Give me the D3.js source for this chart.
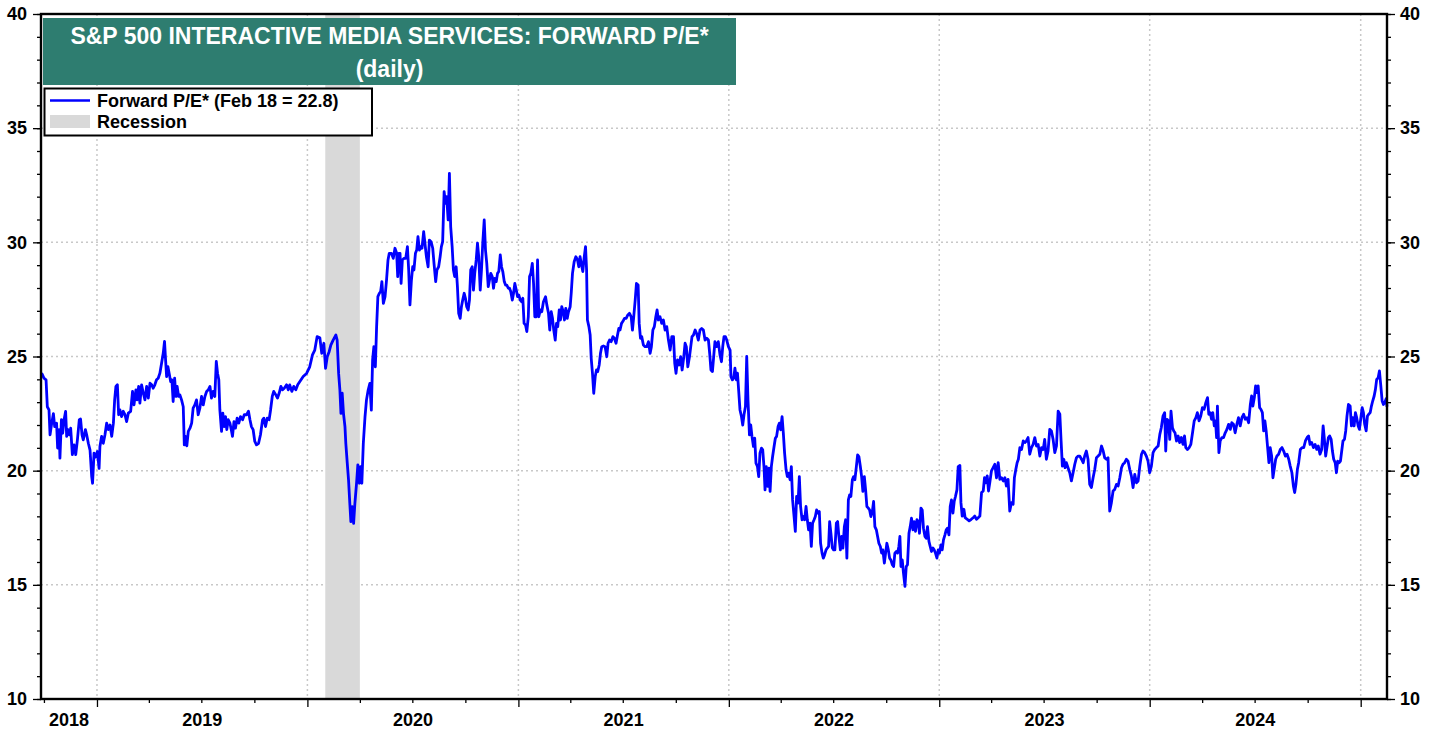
<!DOCTYPE html>
<html><head><meta charset="utf-8">
<script src="https://cdn.jsdelivr.net/npm/d3@7/dist/d3.min.js"></script>
<style>
html,body{margin:0;padding:0;background:#fff;}
svg text{font-family:Arial,"Liberation Sans",sans-serif;font-weight:bold;}
</style>
</head><body>
<svg id="chart" width="1439" height="731"></svg>
<script>
// ---- DATA (time as decimal year, value = forward P/E) ----
const titleLines = ["S&P 500 INTERACTIVE MEDIA SERVICES: FORWARD P/E*", "(daily)"];
const legendLabels = ["Forward P/E* (Feb 18 = 22.8)", "Recession"];
const yMajorTicks = [10, 15, 20, 25, 30, 35, 40];
const yearLabels = ["2018", "2019", "2020", "2021", "2022", "2023", "2024"];
const recessions = [["2020-02-01", "2020-04-01"]];

const pe2018 = [[2018.737,24.27],[2018.748,24.05],[2018.758,23.98],[2018.764,22.8],[2018.772,22.66],[2018.777,21.57],[2018.785,22.08],[2018.793,22.5],[2018.799,21.93],[2018.808,22.08],[2018.813,20.99],[2018.820,21.8],[2018.824,20.55],[2018.831,22.23],[2018.837,21.64],[2018.843,22.2],[2018.851,22.6],[2018.856,21.5],[2018.862,21.8],[2018.869,21.57],[2018.875,21.86],[2018.883,20.7],[2018.891,21.13],[2018.899,20.7],[2018.907,21.35],[2018.916,22.23],[2018.922,22.26],[2018.929,21.57],[2018.935,21.35],[2018.945,21.8],[2018.951,21.57],[2018.959,21.2],[2018.967,20.9],[2018.975,19.74],[2018.979,19.45],[2018.986,20.77],[2018.994,20.6]];

const pe2019 = [[2019.002,20.84],[2019.010,20.1],[2019.014,21.06],[2019.022,21.5],[2019.030,21.2],[2019.038,21.57],[2019.046,22.08],[2019.054,21.8],[2019.062,22.0],[2019.070,21.5],[2019.078,22.08],[2019.084,23.1],[2019.090,23.69],[2019.097,23.76],[2019.103,22.45],[2019.109,22.66],[2019.117,22.37],[2019.125,22.6],[2019.133,22.45],[2019.141,22.15],[2019.149,22.52],[2019.160,22.6],[2019.169,23.47],[2019.176,22.88],[2019.185,23.54],[2019.191,23.1],[2019.198,23.69],[2019.204,22.96],[2019.212,23.76],[2019.220,23.4],[2019.228,23.1],[2019.236,23.69],[2019.244,23.18],[2019.252,23.83],[2019.260,23.76],[2019.267,23.61],[2019.275,23.76],[2019.283,23.98],[2019.291,24.05],[2019.299,24.27],[2019.307,24.7],[2019.315,25.15],[2019.321,25.66],[2019.326,24.85],[2019.331,24.12],[2019.337,24.56],[2019.343,24.27],[2019.350,23.9],[2019.356,23.98],[2019.362,23.03],[2019.369,24.05],[2019.375,23.25],[2019.381,23.69],[2019.388,23.25],[2019.394,23.32],[2019.402,23.1],[2019.410,22.8],[2019.415,21.13],[2019.421,21.5],[2019.427,21.09],[2019.434,21.72],[2019.442,21.86],[2019.450,22.08],[2019.457,22.74],[2019.465,22.88],[2019.473,23.1],[2019.481,22.45],[2019.489,22.74],[2019.497,23.25],[2019.505,22.88],[2019.513,23.25],[2019.521,23.47],[2019.529,23.54],[2019.537,23.69],[2019.544,23.18],[2019.552,23.47],[2019.560,23.25],[2019.567,24.78],[2019.573,24.27],[2019.579,23.98],[2019.584,22.66],[2019.592,21.72],[2019.598,22.52],[2019.605,21.93],[2019.611,22.37],[2019.617,21.8],[2019.624,22.23],[2019.632,22.08],[2019.638,21.8],[2019.644,21.5],[2019.651,22.15],[2019.658,21.86],[2019.666,22.3],[2019.674,22.08],[2019.682,22.37],[2019.692,22.23],[2019.700,22.45],[2019.711,22.45],[2019.720,22.6],[2019.727,22.23],[2019.734,21.93],[2019.742,21.8],[2019.750,21.28],[2019.758,21.13],[2019.768,21.2],[2019.777,21.57],[2019.787,22.23],[2019.793,22.3],[2019.801,21.93],[2019.809,22.3],[2019.818,22.23],[2019.825,22.66],[2019.833,23.25],[2019.840,23.47],[2019.850,23.32],[2019.858,23.18],[2019.866,23.4],[2019.874,23.69],[2019.882,23.54],[2019.890,23.61],[2019.901,23.76],[2019.909,23.54],[2019.916,23.76],[2019.926,23.47],[2019.935,23.69],[2019.945,23.54],[2019.954,23.76],[2019.980,24.12],[2019.996,24.26]];

const pe2020 = [[2020.011,24.55],[2020.024,25.07],[2020.035,25.28],[2020.046,25.87],[2020.059,25.82],[2020.068,25.14],[2020.078,25.58],[2020.086,24.48],[2020.094,24.99],[2020.103,25.21],[2020.111,25.5],[2020.122,25.72],[2020.135,25.94],[2020.141,25.72],[2020.148,24.26],[2020.154,23.53],[2020.159,22.51],[2020.165,23.39],[2020.171,22.51],[2020.178,21.93],[2020.182,21.2],[2020.189,20.32],[2020.195,19.59],[2020.201,18.57],[2020.206,17.77],[2020.212,18.42],[2020.219,17.69],[2020.225,18.57],[2020.233,19.45],[2020.239,20.25],[2020.246,19.45],[2020.252,20.18],[2020.258,19.45],[2020.265,21.2],[2020.273,22.36],[2020.280,23.1],[2020.288,23.53],[2020.296,23.82],[2020.303,22.65],[2020.309,24.85],[2020.315,25.43],[2020.322,24.55],[2020.328,26.31],[2020.334,27.62],[2020.341,27.77],[2020.347,27.84],[2020.353,28.28],[2020.360,27.33],[2020.368,27.62],[2020.375,28.35],[2020.382,29.23],[2020.388,29.52],[2020.398,29.52],[2020.407,29.3],[2020.415,29.74],[2020.423,29.52],[2020.428,28.5],[2020.434,29.52],[2020.439,29.52],[2020.444,28.2],[2020.450,29.23],[2020.458,29.3],[2020.466,29.3],[2020.474,29.81],[2020.480,28.79],[2020.486,27.26],[2020.493,28.35],[2020.499,28.93],[2020.505,28.79],[2020.512,29.52],[2020.518,29.66],[2020.524,30.25],[2020.531,29.66],[2020.537,29.81],[2020.543,29.74],[2020.551,30.47],[2020.557,29.96],[2020.564,29.37],[2020.572,28.93],[2020.578,30.1],[2020.586,30.03],[2020.594,29.74],[2020.600,29.08],[2020.608,28.28],[2020.614,28.79],[2020.622,28.93],[2020.629,29.37],[2020.635,29.81],[2020.641,30.03],[2020.648,32.22],[2020.654,31.71],[2020.660,32.0],[2020.667,30.98],[2020.673,33.02],[2020.679,30.69],[2020.686,29.81],[2020.692,28.79],[2020.698,28.5],[2020.705,28.93],[2020.711,28.06],[2020.717,26.89],[2020.724,26.67],[2020.730,27.18],[2020.736,27.47],[2020.743,27.77],[2020.749,27.55],[2020.755,27.18],[2020.762,27.04],[2020.768,27.47],[2020.774,28.79],[2020.781,28.93],[2020.787,27.91],[2020.793,28.64],[2020.800,29.23],[2020.806,29.96],[2020.812,29.37],[2020.819,27.91],[2020.825,28.79],[2020.831,29.96],[2020.838,30.98],[2020.844,29.66],[2020.850,29.08],[2020.857,28.06],[2020.863,28.35],[2020.869,28.64],[2020.876,28.5],[2020.882,27.99],[2020.888,28.42],[2020.895,28.28],[2020.901,28.64],[2020.907,28.72],[2020.914,29.45],[2020.920,28.93],[2020.926,28.72],[2020.933,28.28],[2020.939,28.13],[2020.945,28.13],[2020.952,27.99],[2020.958,27.99],[2020.964,27.84],[2020.971,27.47],[2020.977,27.77],[2020.983,28.2],[2020.990,27.91],[2020.996,27.62]];

const pe2021 = [[2021.002,27.69],[2021.009,27.47],[2021.015,27.4],[2021.021,27.55],[2021.027,26.45],[2021.034,26.38],[2021.040,26.09],[2021.047,26.74],[2021.053,28.5],[2021.059,28.64],[2021.066,29.08],[2021.072,28.2],[2021.078,26.74],[2021.085,26.74],[2021.091,29.23],[2021.097,26.74],[2021.104,27.04],[2021.111,26.96],[2021.119,27.4],[2021.129,27.62],[2021.135,27.26],[2021.143,26.89],[2021.149,26.16],[2021.156,26.96],[2021.162,26.67],[2021.168,26.16],[2021.175,25.72],[2021.181,26.45],[2021.187,26.31],[2021.194,27.04],[2021.200,26.6],[2021.206,27.18],[2021.213,26.96],[2021.219,26.6],[2021.225,27.11],[2021.232,26.67],[2021.238,26.96],[2021.246,27.18],[2021.251,27.77],[2021.257,28.64],[2021.265,29.15],[2021.273,29.37],[2021.281,29.23],[2021.287,28.93],[2021.293,29.37],[2021.300,29.01],[2021.306,28.72],[2021.312,29.3],[2021.319,29.81],[2021.324,28.79],[2021.328,26.6],[2021.335,26.31],[2021.341,25.94],[2021.346,24.92],[2021.352,24.26],[2021.358,23.39],[2021.365,24.12],[2021.371,24.41],[2021.377,24.34],[2021.384,24.63],[2021.390,25.14],[2021.396,25.43],[2021.404,25.46],[2021.412,25.43],[2021.420,24.99],[2021.426,25.58],[2021.433,25.72],[2021.441,25.65],[2021.449,25.87],[2021.456,25.8],[2021.464,25.58],[2021.471,25.94],[2021.477,26.23],[2021.483,26.16],[2021.490,26.45],[2021.496,26.53],[2021.504,26.67],[2021.512,26.67],[2021.520,26.82],[2021.528,26.89],[2021.536,26.74],[2021.542,26.16],[2021.548,26.74],[2021.555,27.47],[2021.561,28.2],[2021.569,28.13],[2021.574,26.45],[2021.580,25.8],[2021.586,25.87],[2021.594,25.5],[2021.602,25.43],[2021.610,25.43],[2021.618,25.65],[2021.626,25.14],[2021.632,25.43],[2021.639,26.16],[2021.646,26.31],[2021.653,26.74],[2021.659,27.04],[2021.665,26.6],[2021.673,26.74],[2021.681,26.45],[2021.689,26.6],[2021.697,26.16],[2021.705,26.31],[2021.713,25.72],[2021.721,25.28],[2021.729,25.87],[2021.737,25.87],[2021.743,24.7],[2021.749,24.26],[2021.756,24.85],[2021.764,24.63],[2021.771,24.99],[2021.778,24.41],[2021.786,24.99],[2021.792,25.58],[2021.798,25.43],[2021.805,24.55],[2021.813,24.99],[2021.819,25.43],[2021.825,25.87],[2021.832,25.94],[2021.840,26.16],[2021.847,26.01],[2021.855,25.72],[2021.863,26.16],[2021.871,26.23],[2021.879,26.16],[2021.887,25.72],[2021.895,25.8],[2021.903,25.72],[2021.909,25.14],[2021.915,24.41],[2021.922,24.34],[2021.928,24.99],[2021.934,25.65],[2021.942,25.43],[2021.950,25.65],[2021.958,25.07],[2021.965,24.77],[2021.971,25.43],[2021.977,25.87],[2021.984,25.87],[2021.990,25.72],[2021.998,25.43]];

const pe2022 = [[2022.006,25.28],[2022.010,24.12],[2022.017,23.98],[2022.023,24.05],[2022.029,24.49],[2022.036,23.98],[2022.041,24.27],[2022.047,23.47],[2022.053,22.66],[2022.060,22.37],[2022.066,22.0],[2022.072,22.45],[2022.079,22.81],[2022.085,25.0],[2022.091,23.1],[2022.098,21.57],[2022.104,22.0],[2022.110,21.5],[2022.117,21.06],[2022.123,21.42],[2022.129,20.33],[2022.136,20.18],[2022.142,19.74],[2022.148,20.77],[2022.155,20.99],[2022.161,20.91],[2022.167,20.18],[2022.172,19.16],[2022.178,20.18],[2022.185,19.31],[2022.191,20.11],[2022.196,19.09],[2022.202,20.18],[2022.208,20.62],[2022.215,21.06],[2022.221,21.42],[2022.227,21.5],[2022.234,21.93],[2022.240,22.08],[2022.246,21.79],[2022.253,22.37],[2022.259,21.64],[2022.265,20.77],[2022.272,20.04],[2022.278,19.74],[2022.284,19.89],[2022.291,19.6],[2022.297,20.18],[2022.303,18.72],[2022.310,17.99],[2022.316,17.34],[2022.322,18.87],[2022.329,18.58],[2022.335,19.74],[2022.341,18.43],[2022.348,17.85],[2022.354,17.99],[2022.360,17.85],[2022.367,18.43],[2022.373,17.85],[2022.379,17.41],[2022.386,17.7],[2022.392,16.68],[2022.398,17.7],[2022.405,17.85],[2022.411,17.99],[2022.417,18.28],[2022.424,18.14],[2022.430,18.21],[2022.436,16.82],[2022.443,16.39],[2022.449,16.17],[2022.455,16.31],[2022.462,16.53],[2022.468,16.61],[2022.474,16.68],[2022.479,17.77],[2022.485,17.26],[2022.492,16.61],[2022.498,16.53],[2022.504,16.53],[2022.511,17.7],[2022.517,17.77],[2022.523,17.12],[2022.530,16.53],[2022.536,17.12],[2022.542,16.61],[2022.549,17.55],[2022.555,17.85],[2022.561,16.17],[2022.568,18.72],[2022.574,18.94],[2022.580,18.87],[2022.587,19.6],[2022.593,19.74],[2022.599,19.6],[2022.606,20.18],[2022.612,20.69],[2022.618,20.62],[2022.625,20.18],[2022.631,19.74],[2022.637,19.09],[2022.644,19.74],[2022.650,19.16],[2022.656,18.43],[2022.663,18.36],[2022.669,18.28],[2022.675,17.99],[2022.682,18.21],[2022.688,18.65],[2022.694,17.55],[2022.701,17.41],[2022.707,17.12],[2022.713,16.82],[2022.720,16.68],[2022.726,16.39],[2022.732,16.53],[2022.739,15.95],[2022.745,16.39],[2022.751,16.82],[2022.758,16.53],[2022.764,16.17],[2022.770,16.09],[2022.777,15.88],[2022.783,15.8],[2022.789,16.39],[2022.796,16.46],[2022.802,16.39],[2022.808,16.68],[2022.813,17.12],[2022.818,15.8],[2022.824,16.09],[2022.830,15.51],[2022.837,14.93],[2022.843,15.8],[2022.849,15.88],[2022.856,17.26],[2022.862,17.55],[2022.868,17.92],[2022.875,17.41],[2022.881,17.77],[2022.887,17.34],[2022.894,17.85],[2022.900,17.77],[2022.906,17.26],[2022.913,18.36],[2022.919,18.28],[2022.925,17.48],[2022.932,17.12],[2022.938,17.04],[2022.944,17.55],[2022.951,16.9],[2022.957,16.68],[2022.963,16.46],[2022.970,16.61],[2022.976,16.53],[2022.982,16.39],[2022.989,16.17],[2022.995,16.53]];

const pe2023 = [[2023.001,16.39],[2023.008,16.75],[2023.014,16.53],[2023.020,16.97],[2023.027,17.19],[2023.033,17.41],[2023.039,17.48],[2023.046,17.19],[2023.052,18.43],[2023.058,18.72],[2023.065,18.14],[2023.071,18.65],[2023.077,18.87],[2023.084,19.16],[2023.090,20.18],[2023.098,20.23],[2023.103,18.6],[2023.109,18.01],[2023.117,18.31],[2023.123,17.94],[2023.133,17.87],[2023.142,17.8],[2023.152,17.87],[2023.161,17.94],[2023.169,18.01],[2023.177,17.87],[2023.185,17.94],[2023.193,18.01],[2023.201,19.04],[2023.209,19.11],[2023.215,19.69],[2023.221,19.47],[2023.228,19.77],[2023.234,19.11],[2023.240,19.47],[2023.248,19.99],[2023.256,20.13],[2023.264,20.28],[2023.272,19.69],[2023.280,20.35],[2023.288,19.62],[2023.296,19.69],[2023.304,19.55],[2023.312,19.69],[2023.319,19.33],[2023.327,19.62],[2023.335,18.23],[2023.343,18.6],[2023.351,18.53],[2023.357,19.69],[2023.364,20.06],[2023.370,20.35],[2023.376,20.5],[2023.383,21.01],[2023.391,20.93],[2023.399,21.3],[2023.407,21.23],[2023.414,21.3],[2023.422,21.45],[2023.430,20.72],[2023.438,21.01],[2023.446,21.15],[2023.454,21.45],[2023.462,21.08],[2023.470,21.15],[2023.478,20.64],[2023.486,21.01],[2023.494,20.93],[2023.501,21.37],[2023.509,20.5],[2023.517,20.86],[2023.525,21.81],[2023.533,21.74],[2023.541,21.37],[2023.549,20.79],[2023.557,21.08],[2023.565,22.61],[2023.573,22.47],[2023.579,21.3],[2023.585,20.2],[2023.592,20.5],[2023.598,20.13],[2023.604,20.35],[2023.612,20.13],[2023.620,19.91],[2023.628,19.55],[2023.636,19.91],[2023.644,20.28],[2023.652,20.57],[2023.660,20.64],[2023.668,20.64],[2023.676,20.5],[2023.684,20.35],[2023.691,20.64],[2023.699,20.86],[2023.707,20.5],[2023.715,19.4],[2023.723,19.26],[2023.731,19.69],[2023.739,20.06],[2023.747,20.57],[2023.755,20.64],[2023.763,20.72],[2023.771,21.08],[2023.779,20.86],[2023.786,20.57],[2023.794,20.5],[2023.802,20.57],[2023.810,18.23],[2023.818,18.6],[2023.826,19.11],[2023.834,19.18],[2023.842,19.4],[2023.850,19.33],[2023.858,19.69],[2023.866,20.13],[2023.873,20.28],[2023.881,20.35],[2023.889,20.5],[2023.897,20.42],[2023.905,20.06],[2023.913,19.77],[2023.921,19.26],[2023.929,19.84],[2023.937,19.47],[2023.945,19.55],[2023.953,20.2],[2023.961,20.72],[2023.968,20.86],[2023.976,20.79],[2023.984,20.64],[2023.992,20.42]];

const pe2024 = [[2024.000,19.91],[2024.008,20.2],[2024.016,20.79],[2024.024,20.93],[2024.032,21.01],[2024.040,21.08],[2024.048,21.59],[2024.055,21.88],[2024.063,22.39],[2024.071,22.54],[2024.076,20.86],[2024.082,22.25],[2024.089,22.18],[2024.095,21.37],[2024.101,22.61],[2024.108,21.88],[2024.114,21.74],[2024.120,21.66],[2024.127,21.3],[2024.135,21.52],[2024.142,21.23],[2024.150,21.45],[2024.158,21.15],[2024.165,21.52],[2024.171,21.01],[2024.179,20.93],[2024.187,21.01],[2024.195,21.15],[2024.203,21.66],[2024.211,22.18],[2024.219,22.32],[2024.226,22.54],[2024.234,22.18],[2024.242,22.39],[2024.250,22.76],[2024.258,22.69],[2024.266,22.98],[2024.274,23.2],[2024.280,22.47],[2024.287,22.54],[2024.293,22.25],[2024.299,22.54],[2024.306,21.96],[2024.312,22.18],[2024.317,21.45],[2024.321,22.83],[2024.328,20.79],[2024.334,21.3],[2024.342,21.45],[2024.350,21.45],[2024.358,21.66],[2024.366,21.81],[2024.374,22.03],[2024.382,21.81],[2024.389,22.1],[2024.397,22.03],[2024.405,21.66],[2024.413,22.03],[2024.421,22.32],[2024.429,21.96],[2024.437,22.32],[2024.445,22.47],[2024.453,22.25],[2024.461,22.32],[2024.469,22.1],[2024.477,22.9],[2024.483,23.27],[2024.489,22.83],[2024.496,23.2],[2024.502,23.71],[2024.508,23.42],[2024.514,23.71],[2024.521,22.76],[2024.527,22.69],[2024.534,22.54],[2024.540,21.74],[2024.546,22.18],[2024.552,21.74],[2024.559,21.01],[2024.565,20.35],[2024.571,21.01],[2024.578,20.64],[2024.584,19.69],[2024.590,20.06],[2024.597,20.5],[2024.603,20.64],[2024.611,20.72],[2024.619,20.93],[2024.627,21.01],[2024.635,20.86],[2024.643,20.64],[2024.651,20.72],[2024.659,20.5],[2024.666,20.2],[2024.674,19.91],[2024.681,19.33],[2024.687,19.04],[2024.693,19.4],[2024.700,20.06],[2024.706,20.35],[2024.714,20.93],[2024.722,21.01],[2024.730,21.01],[2024.738,21.3],[2024.746,21.45],[2024.753,21.52],[2024.760,21.15],[2024.768,21.23],[2024.776,21.01],[2024.784,21.15],[2024.792,20.93],[2024.799,21.08],[2024.807,20.72],[2024.815,20.93],[2024.822,21.96],[2024.828,21.37],[2024.834,20.64],[2024.841,21.08],[2024.847,21.45],[2024.853,21.52],[2024.860,21.37],[2024.866,20.86],[2024.872,20.5],[2024.879,20.35],[2024.885,19.91],[2024.891,20.42],[2024.898,20.35],[2024.904,20.42],[2024.910,20.86],[2024.916,21.3],[2024.923,21.37],[2024.929,21.74],[2024.935,22.39],[2024.942,22.9],[2024.950,22.83],[2024.956,21.96],[2024.962,22.32],[2024.969,21.96],[2024.975,22.54],[2024.981,22.32],[2024.988,21.96],[2024.994,21.81]];

const pe2025 = [[2025.000,22.25],[2025.007,22.76],[2025.013,22.54],[2025.019,22.03],[2025.026,21.74],[2025.032,22.39],[2025.038,22.47],[2025.045,22.54],[2025.051,22.83],[2025.057,23.05],[2025.064,23.27],[2025.070,23.56],[2025.076,24.0],[2025.083,24.07],[2025.089,24.37],[2025.095,23.78],[2025.102,23.05],[2025.108,22.9],[2025.114,22.98],[2025.121,23.15],[2025.125,22.8]];

const xDomainYears = [2018.734, 2025.125];
const yDomain = [10, 40];

// ---- DRAWING ----
function toDate(t){const y=Math.floor(t);const a=Date.UTC(y,0,1),b=Date.UTC(y+1,0,1);return new Date(a+(t-y)*(b-a));}
const series = [].concat(pe2018,pe2019,pe2020,pe2021,pe2022,pe2023,pe2024,pe2025).map(d=>({date:toDate(d[0]),v:d[1]}));

const L=41,R=1387,T=14,B=699;
const FS=18;
const svg=d3.select("#chart");
const x=d3.scaleUtc().domain(xDomainYears.map(toDate)).range([L,R]);
const y=d3.scaleLinear().domain(yDomain).range([B,T]);

// grid
const gridColor="#c8c8c8";
const yearStarts=d3.utcYear.range(x.domain()[0], x.domain()[1]).filter(d=>x(d)>L+1);
svg.append("g").selectAll("line").data(yearStarts).join("line")
  .attr("x1",d=>x(d)).attr("x2",d=>x(d)).attr("y1",T).attr("y2",B)
  .attr("stroke",gridColor).attr("stroke-width",1.5).attr("stroke-dasharray","2,3");
svg.append("g").selectAll("line").data(yMajorTicks.filter(v=>v>10&&v<40)).join("line")
  .attr("x1",L).attr("x2",R).attr("y1",d=>y(d)).attr("y2",d=>y(d))
  .attr("stroke",gridColor).attr("stroke-width",1.5).attr("stroke-dasharray","2,3");

// recession
svg.append("g").selectAll("rect").data(recessions).join("rect")
  .attr("x",d=>x(new Date(d[0]))).attr("width",d=>x(new Date(d[1]))-x(new Date(d[0])))
  .attr("y",T).attr("height",B-T).attr("fill","#d9d9d9");

// line
svg.append("path").datum(series)
  .attr("d",d3.line().x(d=>x(d.date)).y(d=>y(d.v)))
  .attr("fill","none").attr("stroke","#0000ff").attr("stroke-width",2.8).attr("stroke-linejoin","round");

// axes
const minorY=d3.range(10,41,1);
function styleAxis(g){g.select(".domain").remove();g.selectAll("line").attr("stroke","#000").attr("stroke-width",1.3);}
svg.append("g").attr("transform",`translate(${L},0)`).call(d3.axisLeft(y).tickValues(minorY).tickSize(4).tickFormat("")).call(styleAxis);
svg.append("g").attr("transform",`translate(${L},0)`).call(d3.axisLeft(y).tickValues(yMajorTicks).tickSize(8).tickPadding(6)).call(styleAxis)
  .selectAll("text").attr("font-size",FS).attr("fill","#000").attr("font-weight","bold");
svg.append("g").attr("transform",`translate(${R},0)`).call(d3.axisRight(y).tickValues(minorY).tickSize(4).tickFormat("")).call(styleAxis);
svg.append("g").attr("transform",`translate(${R},0)`).call(d3.axisRight(y).tickValues(yMajorTicks).tickSize(8).tickPadding(5)).call(styleAxis)
  .selectAll("text").attr("font-size",FS).attr("fill","#000").attr("font-weight","bold");

const quarters=d3.utcMonth.every(3).range(x.domain()[0], x.domain()[1]);
svg.append("g").attr("transform",`translate(0,${B})`).call(d3.axisBottom(x).tickValues(quarters).tickSize(4).tickFormat("")).call(styleAxis)
  .selectAll(".tick line").attr("y2",d=>d.getUTCMonth()===0?8:4);

// year labels centered on visible part of each year
const years=d3.utcYear.range(d3.utcYear.floor(x.domain()[0]), x.domain()[1]);
const lab=svg.append("g");
years.forEach(d=>{
  const a=Math.max(x(d),L), b=Math.min(x(d3.utcYear.offset(d,1)),R);
  const name=String(d.getUTCFullYear());
  if(b-a>40 && yearLabels.includes(name)){
    lab.append("text").attr("x",(a+b)/2).attr("y",726).attr("text-anchor","middle").attr("font-size",FS).text(name);
  }
});

// frame
svg.append("rect").attr("x",L).attr("y",T).attr("width",R-L).attr("height",B-T)
  .attr("fill","none").attr("stroke","#000").attr("stroke-width",2.4);

// title box
svg.append("rect").attr("x",43).attr("y",18).attr("width",693).attr("height",67).attr("fill","#2e7d70");
svg.append("text").attr("x",389.5).attr("y",44).attr("text-anchor","middle").attr("fill","#fff").attr("font-size",23).text(titleLines[0]);
svg.append("text").attr("x",389.5).attr("y",77).attr("text-anchor","middle").attr("fill","#fff").attr("font-size",23).text(titleLines[1]);

// legend
const lg=svg.append("g");
lg.append("rect").attr("x",44.5).attr("y",88.5).attr("width",327.5).attr("height",47).attr("fill","#fff").attr("stroke","#000").attr("stroke-width",2);
lg.append("line").attr("x1",50).attr("x2",90).attr("y1",100.5).attr("y2",100.5).attr("stroke","#0000ff").attr("stroke-width",2.6);
lg.append("rect").attr("x",50).attr("y",115).attr("width",40).attr("height",13).attr("fill","#d9d9d9");
lg.append("text").attr("x",97).attr("y",106.5).attr("font-size",FS).text(legendLabels[0]);
lg.append("text").attr("x",97).attr("y",127.5).attr("font-size",FS).text(legendLabels[1]);
</script>
</body></html>
